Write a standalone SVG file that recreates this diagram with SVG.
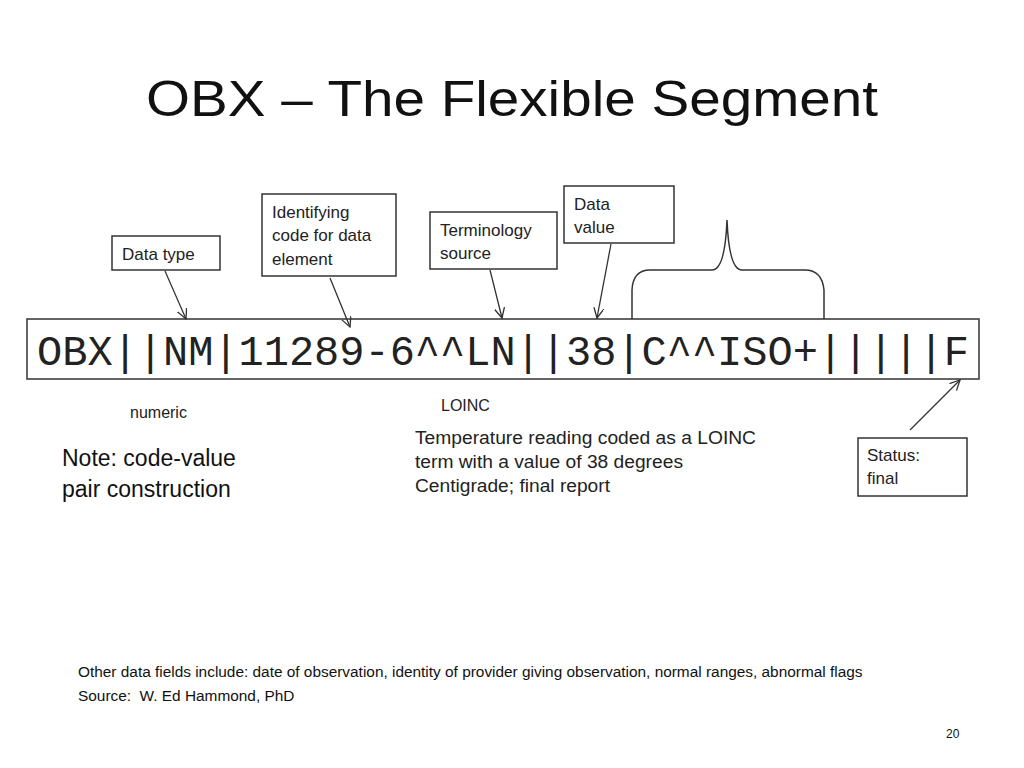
<svg xmlns="http://www.w3.org/2000/svg" width="1024" height="768" viewBox="0 0 1024 768">
<defs>
<marker id="ah" markerWidth="12" markerHeight="12" refX="10" refY="5" orient="auto" markerUnits="userSpaceOnUse"><path d="M0,0 L10,5 L0,10" fill="none" stroke="#333" stroke-width="1.3"/></marker>
</defs>
<style>
.box{fill:#fff;stroke:#333;stroke-width:1.5}
.lbl{font-family:"Liberation Sans",Arial,sans-serif;font-size:17px;fill:#222}
.cn{stroke:#333;stroke-width:1.3;fill:none;marker-end:url(#ah)}
.ft{font-family:"Liberation Sans",Arial,sans-serif;font-size:15.4px;fill:#111}
</style>
<rect width="1024" height="768" fill="#fff"/>
<text x="146" y="116" font-family="Liberation Sans,Arial,sans-serif" font-size="50" fill="#111" textLength="732" lengthAdjust="spacingAndGlyphs">OBX – The Flexible Segment</text>
<g id="main"><rect class="box" x="27" y="319" width="952" height="60"/>
<text x="37" y="365" font-family="Liberation Mono,Courier New,monospace" font-size="43" fill="#222" textLength="932" lengthAdjust="spacingAndGlyphs">OBX||NM|11289-6^^LN||38|C^^ISO+|||||F</text></g>
<g id="brace"><path d="M632,319 L632,290 Q633,270 650,270 L712,270 Q725,270 727,220 Q729,270 742,270 L805,270 Q822,270 824,290 L824,319" fill="none" stroke="#333" stroke-width="1.5"/></g>
<g id="n-datatype"><rect class="box" x="112" y="236" width="108" height="34"/><text class="lbl" x="122" y="260">Data type</text></g>
<g id="n-ident"><rect class="box" x="262" y="194" width="134" height="82"/><text class="lbl" x="272" y="218">Identifying</text><text class="lbl" x="272" y="241">code for data</text><text class="lbl" x="272" y="265">element</text></g>
<g id="n-term"><rect class="box" x="430" y="212" width="127" height="57"/><text class="lbl" x="440" y="236">Terminology</text><text class="lbl" x="440" y="259">source</text></g>
<g id="n-value"><rect class="box" x="564" y="186" width="110" height="57"/><text class="lbl" x="574" y="210">Data</text><text class="lbl" x="574" y="233">value</text></g>
<g id="n-status"><rect class="box" x="858" y="438" width="109" height="58"/><text class="lbl" x="867" y="461">Status:</text><text class="lbl" x="867" y="484">final</text></g>
<g id="connectors">
<line class="cn" x1="165" y1="271" x2="186" y2="319"/>
<line class="cn" x1="330" y1="278" x2="350" y2="327"/>
<line class="cn" x1="490" y1="270" x2="502" y2="318"/>
<line class="cn" x1="611" y1="244" x2="597" y2="318"/>
<line class="cn" x1="910" y1="430" x2="960" y2="380"/>
</g>
<text x="130" y="418" font-family="Liberation Sans,Arial,sans-serif" font-size="16" fill="#222">numeric</text>
<text x="441" y="411" font-family="Liberation Sans,Arial,sans-serif" font-size="16" fill="#222">LOINC</text>
<g font-family="Liberation Sans,Arial,sans-serif" font-size="23" fill="#111"><text x="62" y="466">Note: code-value</text><text x="62" y="497">pair construction</text></g>
<g font-family="Liberation Sans,Arial,sans-serif" font-size="17.5" fill="#222" xml:space="preserve"><text x="415" y="444" textLength="341" lengthAdjust="spacingAndGlyphs">Temperature  reading  coded  as a LOINC</text><text x="415" y="468" textLength="268" lengthAdjust="spacingAndGlyphs">term with a value  of 38 degrees</text><text x="415" y="492" textLength="195" lengthAdjust="spacingAndGlyphs">Centigrade;  final  report</text></g>
<text class="ft" x="78" y="677">Other data fields include: date of observation, identity of provider giving observation, normal ranges, abnormal flags</text>
<text class="ft" x="78" y="701" xml:space="preserve">Source:  W. Ed Hammond, PhD</text>
<text x="946" y="738" font-family="Liberation Sans,Arial,sans-serif" font-size="12" fill="#111">20</text>
</svg>
